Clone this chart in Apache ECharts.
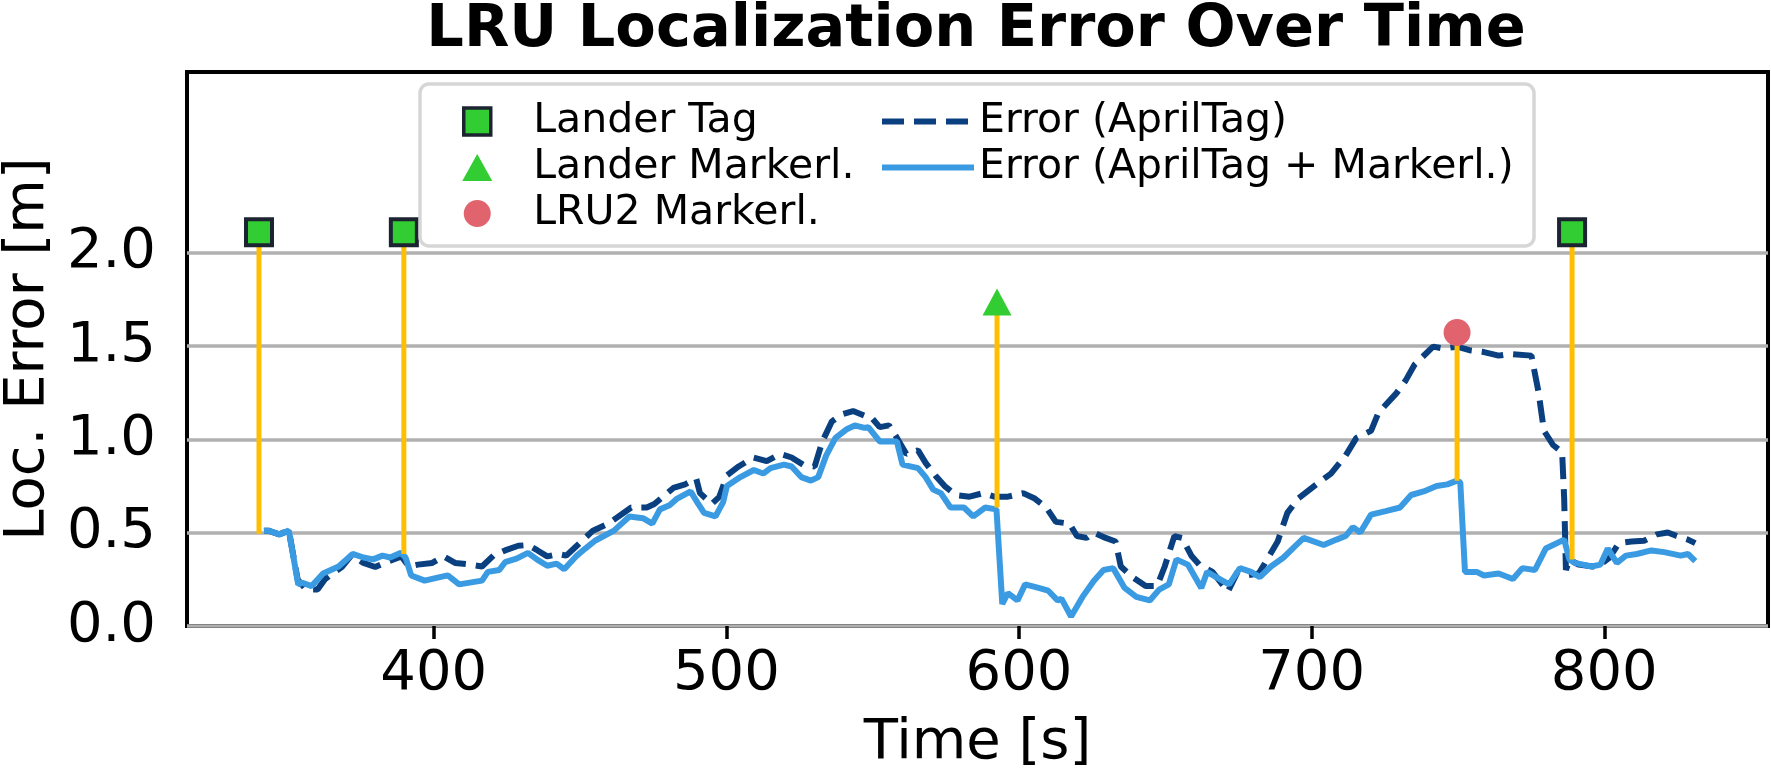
<!DOCTYPE html>
<html lang="en">
  <head>
    <meta charset="UTF-8" />
    <title>LRU Localization Error Over Time</title>
    <style>
      html, body {
        margin: 0;
        padding: 0;
        width: 100%;
        height: 100%;
        overflow: hidden;
        background: #fff;
      }
      #chart {
        width: 1771px;
        height: 780px;
      }
    </style>
    <script src="https://cdn.jsdelivr.net/npm/echarts@6.0.0/dist/echarts.min.js"></script>
  </head>
  <body>
    <div id="chart"></div>
    <script>
      // time [s] and error [m]
      const aprilT = [342, 343.5, 347.2, 350.5, 353.5, 356.4, 360.3, 362.9, 368.8, 372,
        376, 380, 383.8, 389, 391.5, 394.6, 399.5, 403.4, 407.3, 412.6,
        416.5, 420.4, 424.4, 428.9, 432.2, 435.5, 438.8, 442.6, 445.3, 449.2,
        454.4, 459.7, 467.5, 472.8, 475.4, 481.9, 485.9, 489.7, 491, 495,
        497.6, 500.2, 504.2, 509.2, 513.8, 518.4, 522.3, 526.2, 530.2, 532.8,
        536, 539.3, 543.3, 547.2, 549.2, 552.4, 555.6, 558.3, 561.5, 565.5,
        568.1, 571.4, 574.6, 578.5, 583.1, 587.7, 591.6, 596.2, 601.4, 605.4,
        609.3, 612.6, 617.2, 619.8, 623.1, 625.6, 629.6, 633, 634.8, 638.8,
        643.3, 647.2, 649.8, 653.1, 655.7, 658.9, 661.6, 666.1, 671.4, 674.7,
        678, 681.9, 684.5, 688.4, 691.7, 695.4, 701.6, 706.6, 711.6, 715.3,
        720.3, 722.8, 729, 732.1, 735.2, 741.5, 745.2, 749.7, 753.9, 758.9,
        763.9, 767.6, 775.1, 777.5, 779.4, 782.5, 785.6, 786.3, 786.9, 788.1,
        791.2, 796.2, 798.7, 801.8, 805, 809.3, 813.6, 818, 821.7, 824.8,
        828.6, 831.1];
      const aprilErr = [0.51, 0.511, 0.491, 0.511, 0.25, 0.195, 0.195, 0.252, 0.319, 0.381,
        0.338, 0.316, 0.342, 0.373, 0.319, 0.329, 0.338, 0.373, 0.338, 0.329,
        0.319, 0.377, 0.405, 0.43, 0.434, 0.405, 0.373, 0.386, 0.377, 0.434,
        0.511, 0.549, 0.635, 0.635, 0.654, 0.74, 0.759, 0.79, 0.712, 0.654,
        0.692, 0.807, 0.855, 0.903, 0.884, 0.922, 0.903, 0.865, 0.855, 0.989,
        1.095, 1.133, 1.152, 1.127, 1.124, 1.066, 1.075, 1.008, 0.922, 0.941,
        0.874, 0.807, 0.75, 0.702, 0.693, 0.712, 0.693, 0.693, 0.712, 0.683,
        0.635, 0.558, 0.549, 0.482, 0.472, 0.501, 0.472, 0.453, 0.319, 0.262,
        0.214, 0.214, 0.319, 0.482, 0.472, 0.377, 0.329, 0.29, 0.185, 0.29,
        0.271, 0.281, 0.348, 0.453, 0.606, 0.683, 0.759, 0.817, 0.913, 1.008,
        1.046, 1.142, 1.248, 1.315, 1.401, 1.497, 1.487, 1.497, 1.478, 1.468,
        1.449, 1.458, 1.449, 1.257, 1.046, 0.97, 0.932, 0.683, 0.30, 0.357,
        0.329, 0.319, 0.329, 0.367, 0.444, 0.453, 0.457, 0.491, 0.501, 0.482,
        0.463, 0.444];

      const comboT = [342, 343.5, 347.2, 350.5, 353.7, 355.1, 358.3, 362.2, 367.5, 372.3,
        376, 379.3, 382.5, 385.1, 388.8, 390.4, 392.3, 396.9, 402.1, 404.8,
        408.7, 416.5, 418.5, 422.4, 424.4, 428.3, 432.2, 435.5, 438.8, 442,
        444.6, 448.6, 451.8, 455.1, 461.6, 466.9, 471.5, 474.7, 477.3, 480.6,
        483.2, 487.8, 490.4, 492.4, 496.3, 498.9, 500.2, 504.8, 509.4, 512.6,
        515.1, 519.7, 522.3, 525.6, 528.9, 531.4, 534.1, 537.3, 541.3, 543.9,
        547.2, 548.5, 552.4, 558.3, 560.2, 565.5, 568.1, 570.7, 573.3, 576.6,
        581.2, 584.4, 588.4, 592.3, 594.3, 596.2, 599.5, 602.1, 606.7, 610,
        613.2, 614.5, 617.8, 621.7, 625.6, 628.9, 632.2, 636.1, 640.1, 644.7,
        647.9, 651.2, 653.8, 657.7, 662.3, 664.3, 667.4, 671.8, 675.5, 679.3,
        682.3, 686.1, 690.4, 694.2, 697.3, 704.1, 708.5, 711.6, 714.1, 716.6,
        720.3, 725.3, 730.2, 734, 738.3, 742.7, 746.4, 749.7, 750.8, 752.4,
        756.4, 758.9, 763.9, 768.8, 772, 776.3, 780, 786.3, 788.1, 790,
        795.6, 798.7, 801.2, 804.3, 807.4, 811.1, 816.1, 820.5, 826.1, 828.6,
        831.1];
      const comboErr = [0.51, 0.511, 0.491, 0.511, 0.223, 0.232, 0.214, 0.281, 0.319, 0.386,
        0.367, 0.357, 0.377, 0.367, 0.392, 0.367, 0.271, 0.243, 0.262, 0.271,
        0.223, 0.243, 0.29, 0.30, 0.342, 0.361, 0.392, 0.354, 0.323, 0.334,
        0.304, 0.373, 0.415, 0.457, 0.511, 0.587, 0.578, 0.549, 0.625, 0.647,
        0.683, 0.721, 0.654, 0.606, 0.587, 0.664, 0.75, 0.798, 0.836, 0.817,
        0.846, 0.865, 0.855, 0.798, 0.779, 0.798, 0.913, 1.008, 1.056, 1.075,
        1.062, 1.066, 0.989, 0.989, 0.865, 0.846, 0.798, 0.731, 0.712, 0.635,
        0.635, 0.587, 0.635, 0.625, 0.118, 0.176, 0.137, 0.223, 0.204, 0.189,
        0.137, 0.147, 0.051, 0.156, 0.243, 0.30, 0.31, 0.204, 0.156, 0.137,
        0.195, 0.223, 0.357, 0.329, 0.204, 0.29, 0.262, 0.223, 0.31, 0.29,
        0.262, 0.319, 0.367, 0.425, 0.472, 0.434, 0.463, 0.482, 0.53, 0.501,
        0.597, 0.616, 0.635, 0.702, 0.721, 0.75, 0.759, 0.779, 0.77, 0.29,
        0.29, 0.271, 0.281, 0.252, 0.31, 0.30, 0.415, 0.463, 0.357, 0.338,
        0.319, 0.329, 0.415, 0.338, 0.377, 0.386, 0.405, 0.396, 0.377, 0.386,
        0.348];

      // localization events (marker position)
      const landerTagT = [340.3, 389.8, 789.0];
      const landerTagY = [2.11, 2.11, 2.11];
      const landerMkT = [592.5];
      const landerMkY = [1.736];
      const lru2MkT = [749.7];
      const lru2MkY = [1.573];

      // vertical connectors: time, bottom, top
      const stemT = [340.3, 389.8, 592.5, 749.7, 789.0];
      const stemLow = [0.495, 0.386, 0.635, 0.779, 0.357];
      const stemHigh = [2.11, 2.11, 1.736, 1.573, 2.11];

      const xTicks = [400, 500, 600, 700, 800];
      const yTicks = [0, 0.5, 1.0, 1.5, 2.0];

      const zip = (a, b) => a.map((v, i) => [v, b[i]]);
      const FONT = "DejaVu Sans";
      const DARK = "#0a4080";
      const LIGHT = "#3a9be3";
      const DASH = [22, 10];

      const chart = echarts.init(document.getElementById("chart"), null, { renderer: "canvas" });

      const legendText = { fontFamily: FONT, fontSize: 41, lineHeight: 40, color: "#000" };

      const option = {
        backgroundColor: "#fff",
        animation: false,
        title: {
          text: "LRU Localization Error Over Time",
          left: 976,
          top: 1,
          padding: 0,
          textAlign: "center",
          textStyle: { fontFamily: FONT, fontWeight: "bold", fontSize: 59, color: "#000" }
        },
        grid: {
          left: 187,
          top: 72,
          width: 1581,
          height: 554,
          containLabel: false,
          outerBoundsMode: "none",
          show: true,
          borderColor: "#000",
          borderWidth: 4,
          backgroundColor: "transparent"
        },
        graphic: [
          {
            type: "rect",
            z: 20,
            shape: { x: 420, y: 84, width: 1114, height: 162, r: 9 },
            style: { fill: "rgba(255,255,255,0.85)", stroke: "#d6d6d6", lineWidth: 3.5 }
          }
        ],
        legend: [
          {
            z: 30,
            left: 462,
            top: 101,
            padding: 0,
            orient: "vertical",
            itemWidth: 102,
            itemHeight: 27,
            itemGap: 5,
            selectedMode: false,
            textStyle: legendText,
            data: [
              { name: "Lander Tag", icon: "path://M0,0H10V10H0Z",
                itemStyle: { color: "#32cd32", borderColor: "#1c2331", borderWidth: 3.5 } },
              { name: "Lander Markerl.", icon: "path://M5,0L10,9L0,9Z",
                itemStyle: { color: "#32cd32", borderWidth: 0 } },
              { name: "LRU2 Markerl.", icon: "circle",
                itemStyle: { color: "#e0636e", borderWidth: 0 } }
            ]
          },
          {
            z: 30,
            left: 879,
            top: 101,
            padding: 0,
            orient: "vertical",
            itemWidth: 92,
            itemHeight: 27,
            itemGap: 5,
            selectedMode: false,
            textStyle: legendText,
            data: [
              { name: "Error (AprilTag)", itemStyle: { opacity: 0 },
                lineStyle: { color: DARK, width: 6, type: DASH } },
              { name: "Error (AprilTag + Markerl.)", itemStyle: { opacity: 0 },
                lineStyle: { color: LIGHT, width: 6 } }
            ]
          }
        ],
        xAxis: {
          type: "value",
          min: 315.7,
          max: 855.95,
          name: "Time [s]",
          nameLocation: "middle",
          nameGap: 89,
          nameTextStyle: { fontFamily: FONT, fontSize: 56, color: "#000" },
          axisLine: { show: false },
          axisTick: {
            show: true,
            length: 13,
            customValues: xTicks,
            lineStyle: { color: "#000", width: 3.5 }
          },
          axisLabel: {
            customValues: xTicks,
            margin: 20,
            fontFamily: FONT,
            fontSize: 56,
            color: "#000"
          },
          splitLine: { show: false }
        },
        yAxis: {
          type: "value",
          min: 0,
          max: 2.969,
          name: "Loc. Error [m]",
          nameLocation: "middle",
          nameGap: 130,
          nameTextStyle: { fontFamily: FONT, fontSize: 56, color: "#000" },
          axisLine: { show: false },
          axisTick: { show: false, customValues: yTicks },
          axisLabel: {
            customValues: yTicks,
            margin: 31,
            fontFamily: FONT,
            fontSize: 56,
            color: "#000",
            formatter: (v) => v.toFixed(1)
          },
          splitLine: { show: true, lineStyle: { color: "#b0b0b0", width: 3.5 } }
        },
        series: [
          {
            name: "Error (AprilTag)",
            type: "line",
            z: 3,
            symbol: "none",
            data: zip(aprilT, aprilErr),
            color: DARK,
            lineStyle: { color: DARK, width: 6, type: DASH, cap: "butt" }
          },
          {
            name: "Error (AprilTag + Markerl.)",
            type: "line",
            z: 4,
            symbol: "none",
            data: zip(comboT, comboErr),
            color: LIGHT,
            lineStyle: { color: LIGHT, width: 6 }
          },
          {
            name: "stems",
            type: "custom",
            z: 5,
            silent: true,
            data: stemT.map((t, i) => [t, stemLow[i], stemHigh[i]]),
            encode: { x: 0, y: [1, 2] },
            renderItem: function (params, api) {
              const p0 = api.coord([api.value(0), api.value(1)]);
              const p1 = api.coord([api.value(0), api.value(2)]);
              return {
                type: "line",
                shape: { x1: p0[0], y1: p0[1], x2: p1[0], y2: p1[1] },
                style: { stroke: "#ffbf00", lineWidth: 5 }
              };
            }
          },
          {
            name: "Lander Tag",
            type: "scatter",
            z: 6,
            symbol: "rect",
            symbolSize: 26,
            data: zip(landerTagT, landerTagY),
            itemStyle: { color: "#32cd32", borderColor: "#1c2331", borderWidth: 4, opacity: 1 }
          },
          {
            name: "Lander Markerl.",
            type: "scatter",
            z: 6,
            symbol: "triangle",
            symbolSize: [29, 27],
            data: zip(landerMkT, landerMkY),
            itemStyle: { color: "#32cd32", opacity: 1 }
          },
          {
            name: "LRU2 Markerl.",
            type: "scatter",
            z: 6,
            symbol: "circle",
            symbolSize: 27,
            data: zip(lru2MkT, lru2MkY),
            itemStyle: { color: "#e0636e", opacity: 1 }
          }
        ]
      };

      chart.setOption(option);
    </script>
  </body>
</html>
